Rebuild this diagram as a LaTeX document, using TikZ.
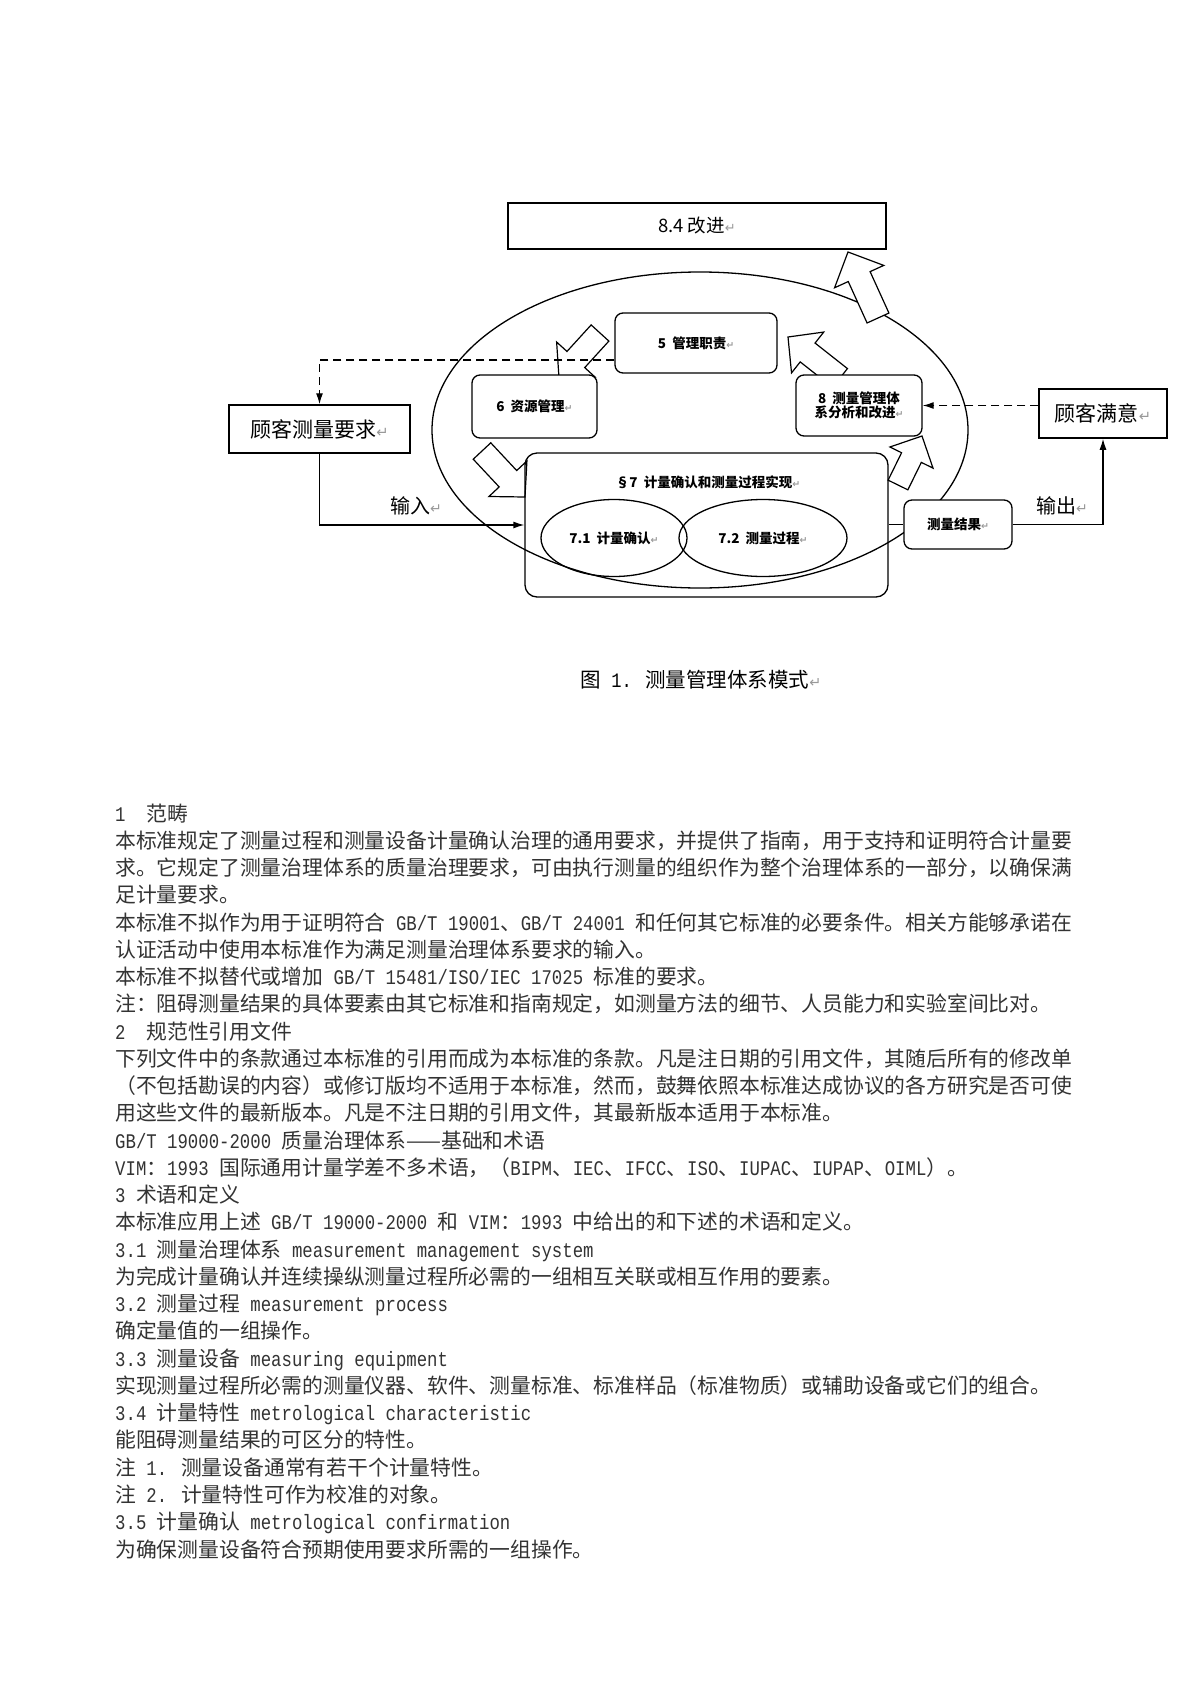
\documentclass[tikz,border=0pt]{standalone}
\usepackage{fontspec}
\usepackage{graphicx}
\setmainfont{Noto Sans CJK SC}
\newfontfamily\monof{Liberation Mono}[FakeStretch=0.8333]
\newfontfamily\dvs{DejaVu Sans}
\usetikzlibrary{calc,arrows.meta,shapes.geometric}
\newcommand\ml[1]{{\monof #1}}
\newcommand\ret{{\dvs\textcolor{black!40}{\scalebox{0.7}{↵}}}}
\newcommand\fs[1]{\fontsize{#1pt}{#1pt}\selectfont}
\newcommand\fatarrow[5]{%
  \path ($(#2)!#5!(#1)$) coordinate (fa-n);
  \draw[blockarr] ($(#1)!#3!90:(#2)$) -- ($(fa-n)!#3!-90:(#1)$) -- ($(fa-n)!#4!-90:(#1)$) -- (#2)
     -- ($(fa-n)!#4!90:(#1)$) -- ($(fa-n)!#3!90:(#1)$) -- ($(#1)!#3!-90:(#2)$) -- cycle;}
\tikzset{
  sqbox/.style={draw, line width=1.5pt, rectangle, inner sep=0pt, fill=white},
  rbox/.style={draw, line width=1.3pt, rectangle, rounded corners=8pt, inner sep=0pt, fill=white, font=\fs{13.5}\bfseries, align=center},
  oval/.style={draw, line width=1.3pt, ellipse, inner sep=0pt, font=\fs{13.5}\bfseries},
  blockarr/.style={draw, line width=1.2pt, fill=white, line join=miter},
  solidl/.style={line width=1.3pt},
  dashl/.style={line width=1.3pt, dash pattern=on 8pt off 5pt},
  tip/.style={-{Latex[length=11pt,width=7pt]}},
  lbl/.style={inner sep=0pt, font=\fs{20}},
  bodyt/.style={anchor=base west, inner sep=0pt, font=\fs{20.8}, text=black!80},
}
\newcommand\bl[2]{\node[bodyt] (t#1) at (115,{821+27.26*(#1-1)}) {#2};}
\begin{document}
\begin{tikzpicture}[x=1pt,y=-1pt]
\useasboundingbox (0,0) rectangle (1191,1684);
\fill[white] (0,0) rectangle (1191,1684);

% big ellipse
\draw[solidl] (700,430) ellipse [x radius=268pt, y radius=158pt];

% block arrows
\coordinate (a1t) at (878,318); \coordinate (a1h) at (848,252);
\coordinate (a2t) at (600,333); \coordinate (a2h) at (559,378);
\coordinate (a3t) at (840,378); \coordinate (a3h) at (788,337);
\coordinate (a4t) at (482,451); \coordinate (a4h) at (525,497);
\coordinate (a5t) at (898,485); \coordinate (a5h) at (922,436);
\fatarrow{a1t}{a1h}{12pt}{27pt}{27pt}
\fatarrow{a2t}{a2h}{12pt}{26pt}{25pt}
\fatarrow{a3t}{a3h}{12pt}{26pt}{25pt}
\fatarrow{a4t}{a4h}{12pt}{26pt}{25pt}
\fatarrow{a5t}{a5h}{11pt}{24pt}{24pt}

% boxes
\node[sqbox, minimum width=378pt, minimum height=46pt, font=\fs{18.5}] (n84) at (697,226) {8.4 改进\ret};
\node[rbox, minimum width=162pt, minimum height=60pt] (n5) at (696,343) {5\ \ 管理职责\ret};
\node[rbox, minimum width=125pt, minimum height=63pt] (n6) at (534.5,406.5) {6\ \ 资源管理\ret};
\node[rbox, minimum width=126pt, minimum height=61pt] (n8) at (859,405.5) {8\ \ 测量管理体\\系分析和改进\ret};
\node[rbox, fill=none, rounded corners=12pt, minimum width=363pt, minimum height=144pt] (n7) at (706.5,525) {};
\node[inner sep=0pt, font=\fs{13.5}\bfseries] (t7) at (708,482) {§7\ \ 计量确认和测量过程实现\ret};
\node[oval, minimum width=146pt, minimum height=77pt] (e71) at (614,538) {7.1\ \ 计量确认\ret};
\node[oval, minimum width=168pt, minimum height=77pt] (e72) at (763,538) {7.2\ \ 测量过程\ret};
\node[rbox, minimum width=108pt, minimum height=49pt] (nres) at (958,524.5) {测量结果\ret};
\node[sqbox, minimum width=128pt, minimum height=49pt, font=\fs{21}] (nsat) at (1103,413.5) {顾客满意\ret};
\node[sqbox, minimum width=181pt, minimum height=48pt, font=\fs{21}] (nreq) at (319.5,429) {顾客测量要求\ret};

% connectors
\draw[dashl, tip] ([yshift=-17pt]n5.west) -| (nreq.north);
\draw[solidl, tip] (nreq.south) |- (n7.west);
\draw[solidl] (nres.west -| n7.east) -- (nres.west);
\draw[solidl, tip] (nres.east) -| (nsat.south);
\draw[dashl, tip] (nsat.west |- n8.east) -- (n8.east);
\node[lbl] (tin) at (416,506) {输入\ret};
\node[lbl] (tout) at (1062,506) {输出\ret};

% caption
\node[inner sep=0pt, font=\fs{20.5}] (cap) at (701,680) {图\ml{ 1. }测量管理体系模式\ret};

% body text
\bl{1}{\ml{1\ \ }范畴}
\bl{2}{本标准规定了测量过程和测量设备计量确认治理的通用要求，并提供了指南，用于支持和证明符合计量要}
\bl{3}{求。它规定了测量治理体系的质量治理要求，可由执行测量的组织作为整个治理体系的一部分，以确保满}
\bl{4}{足计量要求。}
\bl{5}{本标准不拟作为用于证明符合\ml{ GB/T 19001}、\ml{GB/T 24001 }和任何其它标准的必要条件。相关方能够承诺在}
\bl{6}{认证活动中使用本标准作为满足测量治理体系要求的输入。}
\bl{7}{本标准不拟替代或增加\ml{ GB/T 15481/ISO/IEC 17025 }标准的要求。}
\bl{8}{注：阻碍测量结果的具体要素由其它标准和指南规定，如测量方法的细节、人员能力和实验室间比对。}
\bl{9}{\ml{2\ \ }规范性引用文件}
\bl{10}{下列文件中的条款通过本标准的引用而成为本标准的条款。凡是注日期的引用文件，其随后所有的修改单}
\bl{11}{（不包括勘误的内容）或修订版均不适用于本标准，然而，鼓舞依照本标准达成协议的各方研究是否可使}
\bl{12}{用这些文件的最新版本。凡是不注日期的引用文件，其最新版本适用于本标准。}
\bl{13}{\ml{GB/T 19000-2000 }质量治理体系——基础和术语}
\bl{14}{\ml{VIM}：\ml{1993 }国际通用计量学差不多术语，（\ml{BIPM}、\ml{IEC}、\ml{IFCC}、\ml{ISO}、\ml{IUPAC}、\ml{IUPAP}、\ml{OIML}）。}
\bl{15}{\ml{3 }术语和定义}
\bl{16}{本标准应用上述\ml{ GB/T 19000-2000 }和\ml{ VIM}：\ml{1993 }中给出的和下述的术语和定义。}
\bl{17}{\ml{3.1 }测量治理体系\ml{ measurement management system}}
\bl{18}{为完成计量确认并连续操纵测量过程所必需的一组相互关联或相互作用的要素。}
\bl{19}{\ml{3.2 }测量过程\ml{ measurement process}}
\bl{20}{确定量值的一组操作。}
\bl{21}{\ml{3.3 }测量设备\ml{ measuring equipment}}
\bl{22}{实现测量过程所必需的测量仪器、软件、测量标准、标准样品（标准物质）或辅助设备或它们的组合。}
\bl{23}{\ml{3.4 }计量特性\ml{ metrological characteristic}}
\bl{24}{能阻碍测量结果的可区分的特性。}
\bl{25}{注\ml{ 1. }测量设备通常有若干个计量特性。}
\bl{26}{注\ml{ 2. }计量特性可作为校准的对象。}
\bl{27}{\ml{3.5 }计量确认\ml{ metrological confirmation}}
\bl{28}{为确保测量设备符合预期使用要求所需的一组操作。}
\end{tikzpicture}
\end{document}
